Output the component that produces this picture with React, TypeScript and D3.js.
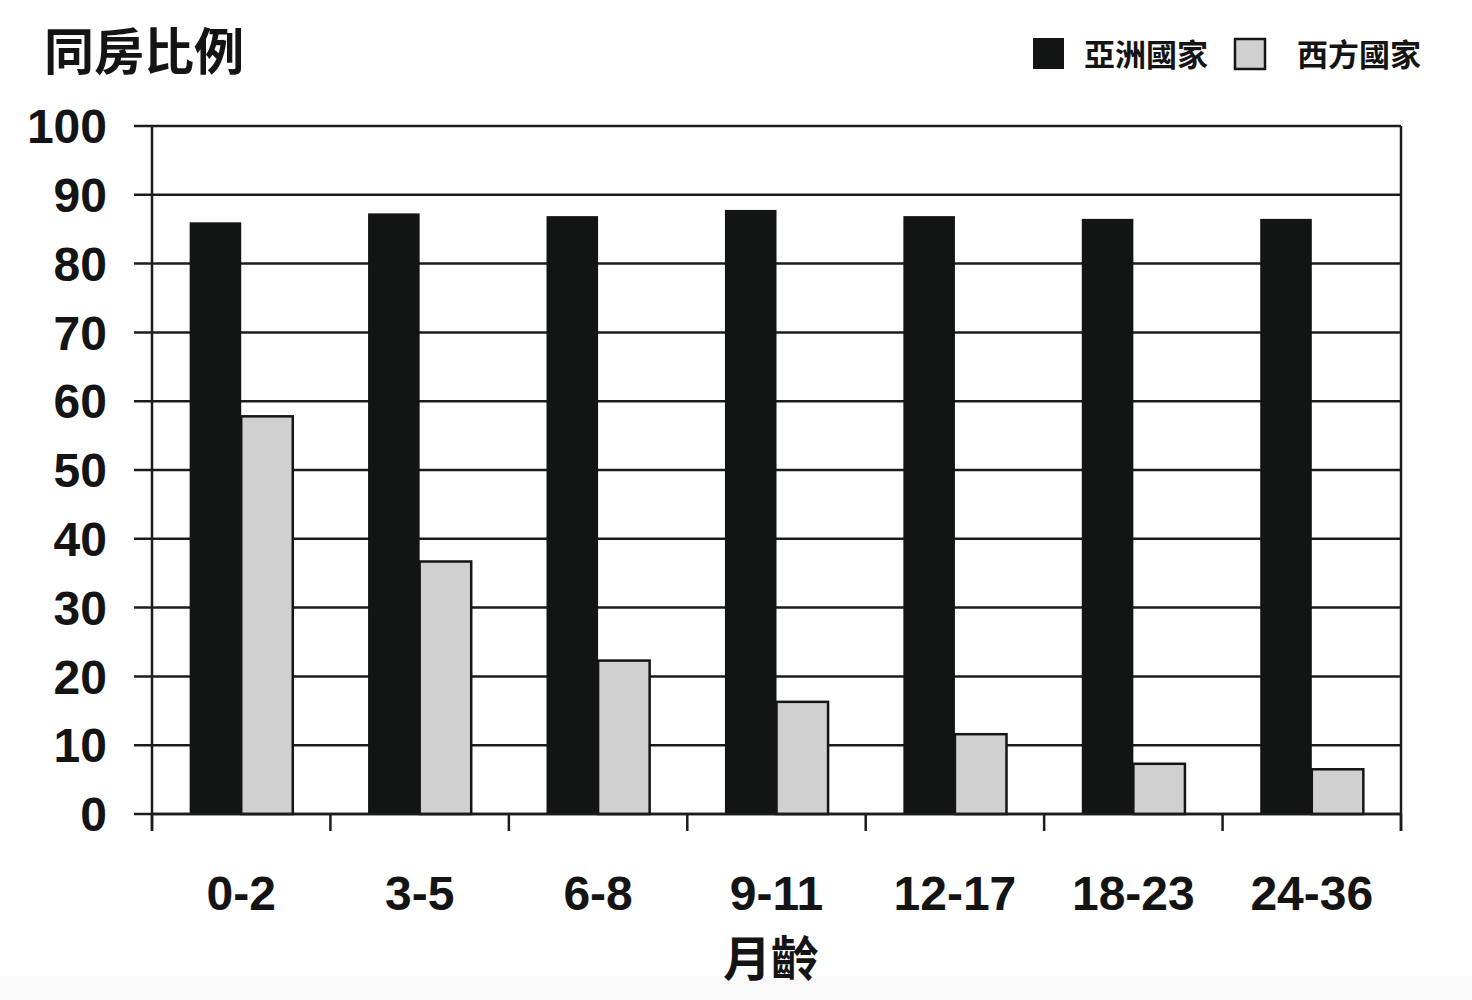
import React from 'react';
import * as d3 from 'd3';

// month-age groups and the two series (percent sharing a room)
const ageGroups = ['0-2', '3-5', '6-8', '9-11', '12-17', '18-23', '24-36'];
const asiaValues = [86.0, 87.3, 86.9, 87.8, 86.9, 86.5, 86.5];
const westValues = [57.8, 36.7, 22.3, 16.3, 11.6, 7.3, 6.5];
const seriesKeys = ['asia', 'west'];
const seriesLabels = ['亞洲國家', '西方國家'];
const yTicks = [0, 10, 20, 30, 40, 50, 60, 70, 80, 90, 100];

const W = 1472;
const H = 1000;
const margin = { left: 152, right: 71, top: 126, bottom: 186 };

const fills: Record<string, string> = { asia: '#131514', west: '#d0d0d0' };
const latin = '"Liberation Sans", Arial, sans-serif';
const cjk = '"Noto Sans CJK TC", "Noto Sans CJK SC", sans-serif';

export default function App() {
    const x0 = margin.left;
    const x1 = W - margin.right;
    const y0 = H - margin.bottom;
    const y1 = margin.top;

    const x = d3.scaleBand<string>().domain(ageGroups).range([x0, x1]).padding(0);
    const xs = d3.scaleBand<string>()
        .domain(seriesKeys)
        .range([0, x.bandwidth()])
        .paddingInner(0)
        .paddingOuter(0.73);
    const y = d3.scaleLinear().domain([0, 100]).range([y0, y1]);

    const rows = ageGroups.map((g, i) => ({ group: g, asia: asiaValues[i], west: westValues[i] }));
    const tickEdges = [...ageGroups.map((g) => x(g) as number), x1];

    return (
        <svg width={W} height={H} style={{ position: 'absolute', left: 0, top: 0, background: '#fff' }}>
            <rect x={0} y={976} width={W} height={24} fill="#f9f9f9" />

            {/* gridlines + y ticks */}
            {yTicks.map((t) => (
                <g key={t}>
                    <line x1={x0 - 18} x2={x1} y1={y(t)} y2={y(t)} stroke="#1c1c1c" strokeWidth={2.5} />
                    <text
                        x={107}
                        y={y(t)}
                        dy="0.36em"
                        textAnchor="end"
                        fontFamily={latin}
                        fontWeight="bold"
                        fontSize={48}
                        fill="#141414"
                    >
                        {t}
                    </text>
                </g>
            ))}

            {/* bars */}
            {rows.map((r) => (
                <g key={r.group} transform={`translate(${x(r.group)},0)`}>
                    {seriesKeys.map((k) => {
                        const v = (r as any)[k] as number;
                        return (
                            <rect
                                key={k}
                                x={xs(k)}
                                y={y(v)}
                                width={xs.bandwidth()}
                                height={y(0) - y(v)}
                                fill={fills[k]}
                                stroke={k === 'west' ? '#151515' : 'none'}
                                strokeWidth={2.5}
                            />
                        );
                    })}
                </g>
            ))}

            {/* axes */}
            <line x1={x0} x2={x0} y1={y1} y2={y0 + 17} stroke="#1c1c1c" strokeWidth={2.5} />
            <line x1={x1} x2={x1} y1={y1} y2={y0 + 17} stroke="#1c1c1c" strokeWidth={2.5} />
            <line x1={x0} x2={x1} y1={y0} y2={y0} stroke="#1c1c1c" strokeWidth={2.5} />
            {tickEdges.map((e, i) => (
                <line key={i} x1={e} x2={e} y1={y0} y2={y0 + 17} stroke="#1c1c1c" strokeWidth={2.5} />
            ))}

            {/* x labels */}
            {ageGroups.map((g) => (
                <text
                    key={g}
                    x={(x(g) as number) + x.bandwidth() / 2}
                    y={910}
                    textAnchor="middle"
                    fontFamily={latin}
                    fontWeight="bold"
                    fontSize={48}
                    fill="#141414"
                >
                    {g}
                </text>
            ))}
            <text x={771} y={976} textAnchor="middle" fontFamily={cjk} fontWeight="bold" fontSize={48} fill="#141414">
                月齡
            </text>

            {/* title */}
            <text x={44} y={70} fontFamily={cjk} fontWeight="bold" fontSize={50} fill="#141414">
                同房比例
            </text>

            {/* legend */}
            {seriesKeys.map((k, i) => {
                const bx = i === 0 ? 1033 : 1234;
                const tx = i === 0 ? 1084 : 1297;
                return (
                    <g key={k}>
                        <rect
                            x={bx + (k === 'west' ? 1 : 0)}
                            y={38 + (k === 'west' ? 1 : 0)}
                            width={k === 'west' ? 30 : 31}
                            height={k === 'west' ? 30 : 31}
                            fill={fills[k]}
                            stroke={k === 'west' ? '#151515' : 'none'}
                            strokeWidth={2.5}
                        />
                        <text x={tx} y={66} fontFamily={cjk} fontWeight="bold" fontSize={31} fill="#141414">
                            {seriesLabels[i]}
                        </text>
                    </g>
                );
            })}
        </svg>
    );
}
